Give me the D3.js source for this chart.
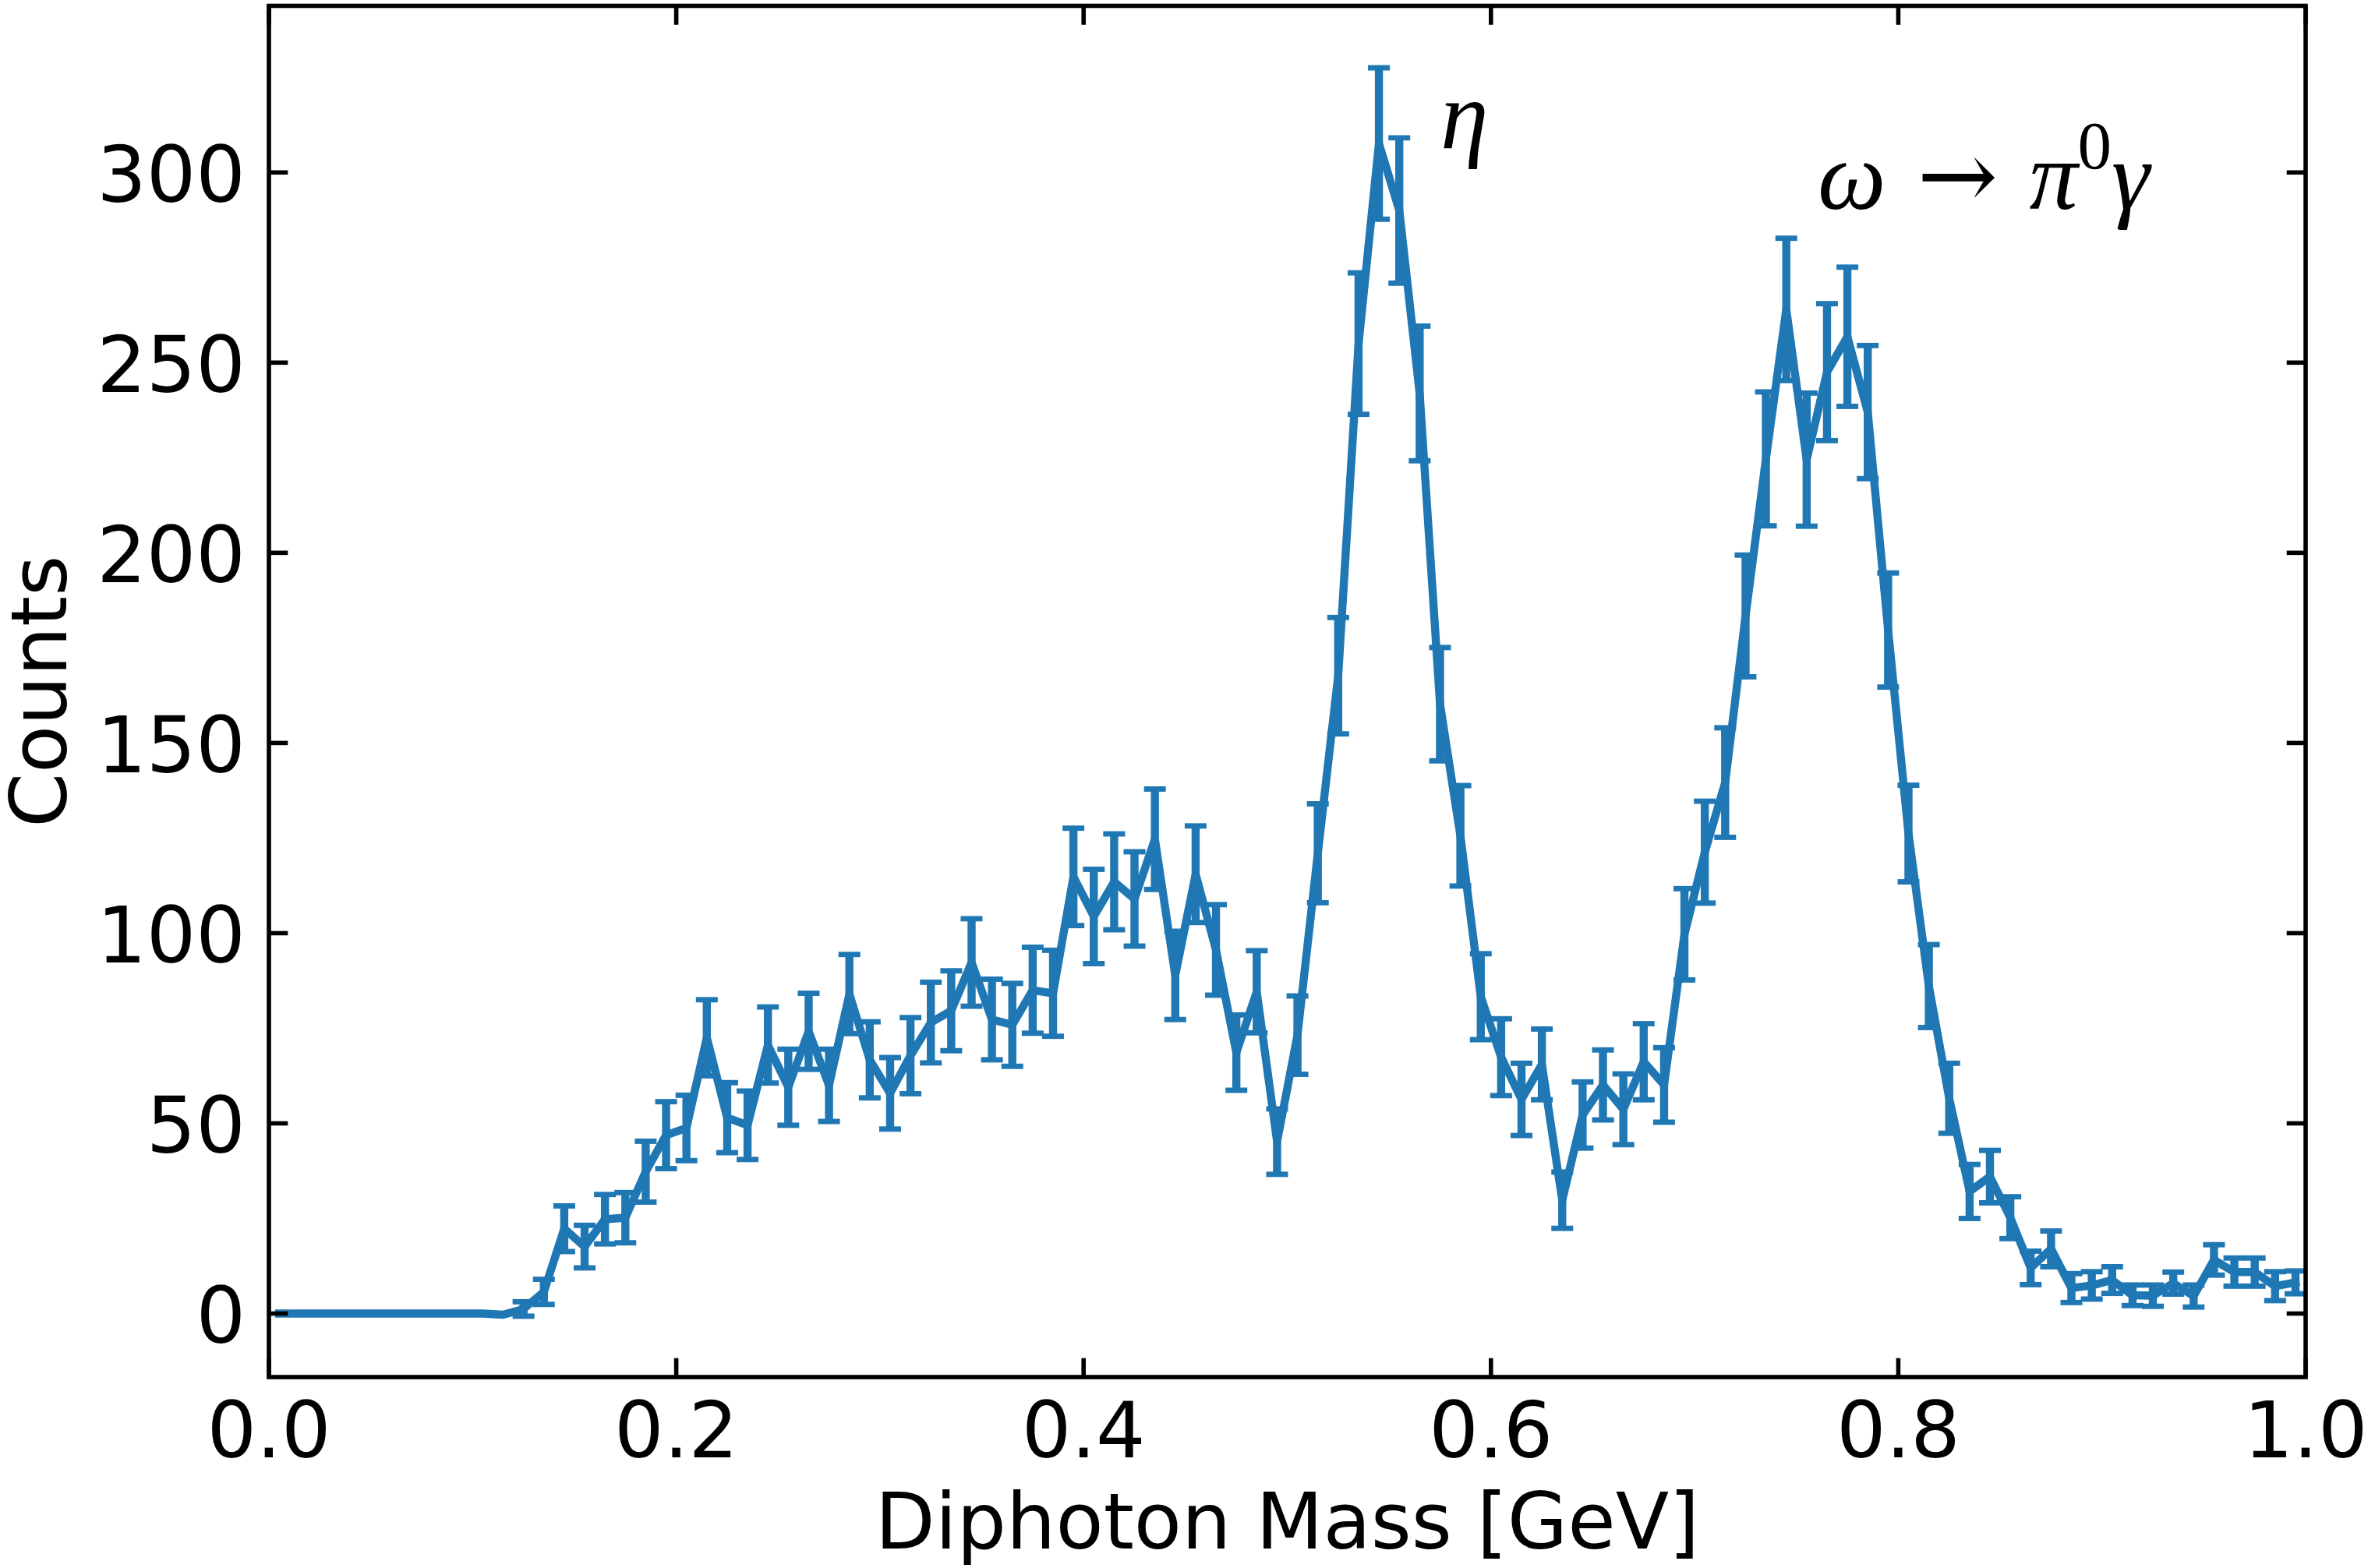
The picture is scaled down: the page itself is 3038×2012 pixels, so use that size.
<!DOCTYPE html>
<html>
<head>
<meta charset="utf-8">
<script src="https://cdn.jsdelivr.net/npm/d3@7"></script>
<style>
  html, body { margin: 0; padding: 0; background: #fff; }
  svg { display: block; }
  .tick-label { font-family: "DejaVu Sans", sans-serif; font-size: 100px; fill: #000; }
  .math { font-family: "Liberation Serif", "DejaVu Serif", serif; fill: #000; }
</style>
</head>
<body>
<div id="chart"></div>
<script>
// bin centres of the diphoton mass histogram [GeV]
const mass = [
  0.005, 0.015, 0.025, 0.035, 0.045, 0.055, 0.065, 0.075, 0.085, 0.095,
  0.105, 0.115, 0.125, 0.135, 0.145, 0.155, 0.165, 0.175, 0.185, 0.195,
  0.205, 0.215, 0.225, 0.235, 0.245, 0.255, 0.265, 0.275, 0.285, 0.295,
  0.305, 0.315, 0.325, 0.335, 0.345, 0.355, 0.365, 0.375, 0.385, 0.395,
  0.405, 0.415, 0.425, 0.435, 0.445, 0.455, 0.465, 0.475, 0.485, 0.495,
  0.505, 0.515, 0.525, 0.535, 0.545, 0.555, 0.565, 0.575, 0.585, 0.595,
  0.605, 0.615, 0.625, 0.635, 0.645, 0.655, 0.665, 0.675, 0.685, 0.695,
  0.705, 0.715, 0.725, 0.735, 0.745, 0.755, 0.765, 0.775, 0.785, 0.795,
  0.805, 0.815, 0.825, 0.835, 0.845, 0.855, 0.865, 0.875, 0.885, 0.895,
  0.905, 0.915, 0.925, 0.935, 0.945, 0.955, 0.965, 0.975, 0.985, 0.995
];

const counts = [
  0, 0, 0, 0, 0, 0, 0, 0, 0, 0,
  0, -0.3, 1.2, 5.7, 22.3, 17.6, 24.8, 25.2, 37.3, 46.9,
  48.8, 72.5, 51.5, 49.5, 70.6, 59.5, 74.2, 60.0, 84.0, 66.7,
  57.9, 67.8, 76.5, 79.6, 92.3, 77.3, 75.9, 85.0, 84.2, 114.8,
  104.4, 113.5, 109.0, 124.7, 88.9, 115.5, 95.6, 68.6, 84.6, 45.2,
  73.2, 121.0, 167.7, 255.0, 307.6, 290.0, 241.9, 160.2, 125.6, 83.3,
  67.4, 56.3, 65.5, 29.8, 52.2, 60.1, 53.7, 66.2, 60.1, 99.7,
  121.3, 139.6, 183.4, 224.7, 264.0, 224.5, 247.5, 256.8, 237.0, 179.7,
  126.2, 86.1, 56.6, 32.1, 36.0, 25.2, 12.0, 17.0, 6.7, 7.4,
  8.8, 4.8, 4.7, 8.0, 4.6, 14.1, 10.9, 10.9, 7.2, 8.2
];

const errors = [
  0, 0, 0, 0, 0, 0, 0, 0, 0, 0,
  0, 0, 1.9, 3.3, 6.0, 5.6, 6.5, 6.6, 8.0, 8.8,
  8.6, 10.0, 9.2, 9.0, 10.0, 10.0, 10.0, 9.5, 10.4, 10.0,
  9.4, 10.0, 10.6, 10.5, 11.5, 10.6, 10.9, 11.3, 11.3, 12.8,
  12.4, 12.6, 12.4, 13.2, 11.6, 12.7, 11.9, 9.9, 10.8, 8.6,
  10.3, 13.0, 15.3, 18.6, 19.9, 19.1, 17.7, 14.9, 13.2, 11.3,
  10.1, 9.5, 9.3, 7.4, 8.7, 9.2, 9.3, 10.0, 9.8, 12.0,
  13.4, 14.4, 16.0, 17.6, 18.7, 17.5, 18.0, 18.3, 17.5, 15.0,
  12.7, 10.9, 9.2, 7.1, 6.9, 5.5, 4.4, 4.7, 3.8, 3.6,
  3.5, 2.7, 2.8, 2.9, 2.9, 4.0, 3.7, 3.7, 3.8, 3.0
];

const xTicks = [0.0, 0.2, 0.4, 0.6, 0.8, 1.0];
const yTicks = [0, 50, 100, 150, 200, 250, 300];

const xLabel = "Diphoton Mass [GeV]";
const yLabel = "Counts";

const width = 3038, height = 2012;
const margin = { top: 7.5, right: 80, bottom: 245, left: 345 };
const innerW = width - margin.left - margin.right;
const innerH = height - margin.top - margin.bottom;

const color = "#1f77b4";
const lineW = 10.4;
const capW = 14;
const tickLen = 24.3;

const svg = d3.select("#chart")
    .append("svg")
    .attr("width", width)
    .attr("height", height);

const x = d3.scaleLinear().domain([0, 1]).range([margin.left, margin.left + innerW]);
const y = d3.scaleLinear().domain([-16.7, 343.8]).range([margin.top + innerH, margin.top]);

const data = mass.map((m, i) => ({ m, c: counts[i], e: errors[i] }));

svg.append("clipPath")
    .attr("id", "plot-area")
    .append("rect")
    .attr("x", margin.left)
    .attr("y", margin.top)
    .attr("width", innerW)
    .attr("height", innerH);

const plot = svg.append("g").attr("clip-path", "url(#plot-area)");

// main line
const line = d3.line()
    .x(d => x(d.m))
    .y(d => y(d.c));

plot.append("path")
    .datum(data)
    .attr("fill", "none")
    .attr("stroke", color)
    .attr("stroke-width", lineW)
    .attr("stroke-linejoin", "round")
    .attr("stroke-linecap", "square")
    .attr("d", line);

// error bars
const withErr = data.filter(d => d.e > 0);

plot.append("g")
    .selectAll("line.ebar")
    .data(withErr)
    .enter()
    .append("line")
    .attr("class", "ebar")
    .attr("x1", d => x(d.m))
    .attr("x2", d => x(d.m))
    .attr("y1", d => y(d.c - d.e))
    .attr("y2", d => y(d.c + d.e))
    .attr("stroke", color)
    .attr("stroke-width", lineW);

const caps = plot.append("g")
    .attr("stroke", color)
    .attr("stroke-width", 6.9);

["lo", "hi"].forEach(side => {
    caps.selectAll("line.cap-" + side)
        .data(withErr)
        .enter()
        .append("line")
        .attr("class", "cap-" + side)
        .attr("x1", d => x(d.m) - capW)
        .attr("x2", d => x(d.m) + capW)
        .attr("y1", d => y(side === "lo" ? d.c - d.e : d.c + d.e))
        .attr("y2", d => y(side === "lo" ? d.c - d.e : d.c + d.e));
});

// axes: ticks point inward on all four sides
const axes = svg.append("g").attr("stroke", "#000");

const x0 = margin.left, x1 = margin.left + innerW;
const y0 = margin.top + innerH, y1 = margin.top;

axes.selectAll("line.xt-bottom")
    .data(xTicks)
    .enter()
    .append("line")
    .attr("x1", d => x(d)).attr("x2", d => x(d))
    .attr("y1", y0).attr("y2", y0 - tickLen)
    .attr("stroke-width", 5.6);

axes.selectAll("line.xt-top")
    .data(xTicks)
    .enter()
    .append("line")
    .attr("x1", d => x(d)).attr("x2", d => x(d))
    .attr("y1", y1).attr("y2", y1 + tickLen)
    .attr("stroke-width", 5.6);

axes.selectAll("line.yt-left")
    .data(yTicks)
    .enter()
    .append("line")
    .attr("x1", x0).attr("x2", x0 + tickLen)
    .attr("y1", d => y(d)).attr("y2", d => y(d))
    .attr("stroke-width", 5.6);

axes.selectAll("line.yt-right")
    .data(yTicks)
    .enter()
    .append("line")
    .attr("x1", x1).attr("x2", x1 - tickLen)
    .attr("y1", d => y(d)).attr("y2", d => y(d))
    .attr("stroke-width", 5.6);

axes.append("rect")
    .attr("x", x0)
    .attr("y", y1)
    .attr("width", innerW)
    .attr("height", innerH)
    .attr("fill", "none")
    .attr("stroke-width", 5.6);

// tick labels
svg.append("g")
    .selectAll("text")
    .data(xTicks)
    .enter()
    .append("text")
    .attr("class", "tick-label")
    .attr("x", d => x(d))
    .attr("y", y0 + 103)
    .attr("text-anchor", "middle")
    .text(d => d3.format(".1f")(d));

svg.append("g")
    .selectAll("text")
    .data(yTicks)
    .enter()
    .append("text")
    .attr("class", "tick-label")
    .attr("x", x0 - 30)
    .attr("y", d => y(d) + 38)
    .attr("text-anchor", "end")
    .text(d => d);

// axis labels
svg.append("text")
    .attr("class", "tick-label")
    .attr("x", (x0 + x1) / 2)
    .attr("y", 1987)
    .attr("text-anchor", "middle")
    .text(xLabel);

svg.append("text")
    .attr("class", "tick-label")
    .attr("transform", `translate(85, ${(y0 + y1) / 2}) rotate(-90)`)
    .attr("text-anchor", "middle")
    .text(yLabel);

// peak annotations
svg.append("text")
    .attr("class", "math")
    .attr("x", x(0.5752))
    .attr("y", y(306.4))
    .attr("font-size", 124)
    .attr("font-style", "italic")
    .text("η");

const omega = svg.append("text")
    .attr("class", "math")
    .attr("x", x(0.7604))
    .attr("y", y(290.4))
    .attr("font-size", 124);

omega.append("tspan").attr("font-style", "italic").text("ω");
omega.append("tspan")
    .attr("font-family", "DejaVu Serif")
    .attr("font-weight", 300)
    .attr("dx", 40)
    .text("→");
omega.append("tspan").attr("font-style", "italic").attr("dx", 40).text("π");
omega.append("tspan").attr("font-size", 87).attr("dy", -52).text("0");
omega.append("tspan").attr("font-style", "italic").attr("dy", 52).text("γ");
</script>
</body>
</html>
